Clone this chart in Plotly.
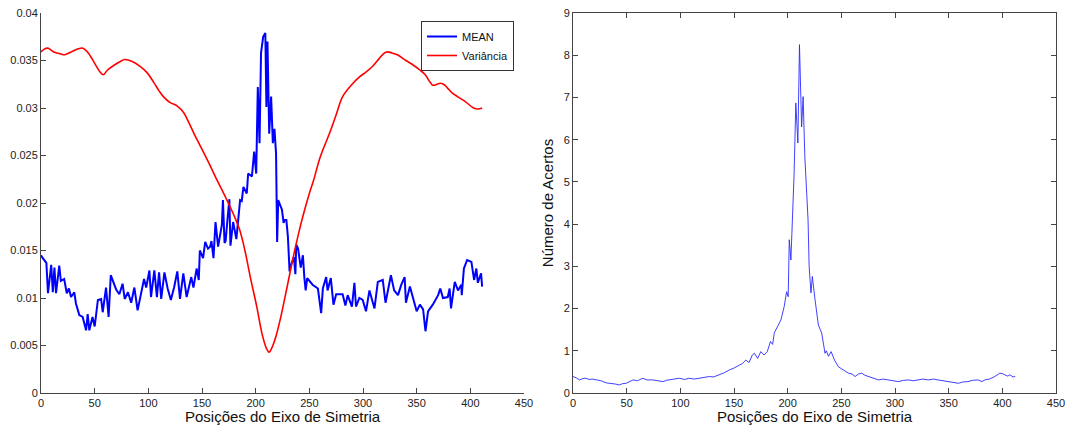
import plotly.graph_objects as go

# --- dados ---
mean_x = [0, 1, 5, 6.5, 9.5, 11, 12.5, 14, 17, 18.5, 21.6, 24, 26, 28, 31, 32.6, 35.7, 38.8,
          42, 43.5, 45, 48, 50, 53, 56, 57.5, 60.6, 63, 65, 70, 73, 76, 78, 81, 84, 87, 90,
          93, 96, 98, 101, 102.5, 105.6, 108, 110, 112, 115, 118, 121, 124, 127, 129.5,
          132.6, 135.7, 138.8, 140, 142, 145, 147, 148, 151, 153, 155.6, 157.6, 158.8,
          160.7, 162.6, 165, 168.5, 169.5, 171, 172, 174, 175.5, 176.5, 179, 182, 184,
          185.5, 187, 188.6, 191.7, 193, 196.5, 198.6, 200.5, 202, 203.6, 205, 207, 209,
          210, 211, 212.6, 214.4, 216, 217.5, 219, 219.6, 220, 221, 224.5, 226, 227, 228.6,
          230, 231.6, 233, 235.6, 237, 237.8, 239.5, 242, 244, 245.4, 246.6, 248, 253, 258,
          261, 262.6, 265.7, 267, 270, 272.5, 275, 281, 283.6, 285.7, 289.7, 292, 293.5,
          296.6, 299.7, 302.8, 306, 310.7, 313.8, 318.4, 321, 326, 329, 332.6, 335.7, 338.8,
          340, 343.7, 346.7, 350, 353, 356, 358.2, 360.6, 365, 370, 372, 374.5, 379, 380.7,
          382, 385.5, 388.5, 391.6, 392, 394, 397, 401, 403.5, 405.6, 407, 410, 411]
mean_y = [0.0145, 0.0143, 0.0137, 0.0105, 0.0135, 0.0106, 0.0132, 0.0105, 0.0134, 0.0118,
          0.0120, 0.0105, 0.0110, 0.0101, 0.0106, 0.0094, 0.0082, 0.0080, 0.0066, 0.0083,
          0.0066, 0.0080, 0.0070, 0.0098, 0.0099, 0.0085, 0.0111, 0.0080, 0.0124, 0.0109,
          0.0104, 0.0115, 0.0099, 0.0106, 0.0095, 0.0111, 0.0087, 0.0104, 0.0120, 0.0111,
          0.0129, 0.0101, 0.0129, 0.0101, 0.0127, 0.0099, 0.0127, 0.0110, 0.0098, 0.0111,
          0.0128, 0.0099, 0.0126, 0.0101, 0.0119, 0.0122, 0.0111, 0.0131, 0.0119, 0.0150,
          0.0142, 0.0159, 0.0152, 0.0154, 0.0160, 0.0142, 0.0180, 0.0154, 0.0177, 0.0203,
          0.0158, 0.0160, 0.0186, 0.0204, 0.0155, 0.0180, 0.0162, 0.0191, 0.0203, 0.0202,
          0.0217, 0.0210, 0.0231, 0.0228, 0.0254, 0.0231, 0.0322, 0.0263, 0.0358, 0.0375,
          0.0379, 0.0301, 0.0370, 0.0273, 0.0312, 0.0263, 0.0278, 0.0252, 0.0203, 0.0159,
          0.0203, 0.0193, 0.0179, 0.0182, 0.0182, 0.0165, 0.0128, 0.0135, 0.0143, 0.0125,
          0.0156, 0.0152, 0.0132, 0.0145, 0.0121, 0.0108, 0.0121, 0.0114, 0.0110, 0.0084,
          0.0110, 0.0122, 0.0108, 0.0121, 0.0093, 0.0104, 0.0104, 0.0092, 0.0103, 0.0091,
          0.0116, 0.0091, 0.0100, 0.0098, 0.0086, 0.0108, 0.0089, 0.0117, 0.0119, 0.0095,
          0.0124, 0.0108, 0.0103, 0.0114, 0.0122, 0.0095, 0.0112, 0.0100, 0.0086, 0.0093,
          0.0088, 0.0065, 0.0086, 0.0093, 0.0103, 0.0110, 0.0100, 0.0101, 0.0110, 0.0089,
          0.0117, 0.0108, 0.0114, 0.0103, 0.0131, 0.0140, 0.0138, 0.0119, 0.0131, 0.0116,
          0.0126, 0.0112]

var_x = [0, 3, 6.5, 12, 18, 22, 28, 34, 39, 44, 50, 55, 58, 62, 68, 74, 78, 85, 92, 99,
         105, 110, 114, 120, 127, 133, 138, 143, 148, 156, 164, 172, 179, 185, 190, 195, 201,
         206, 210, 212.5, 216, 219, 223, 229, 235, 240, 244, 250, 254, 260, 269, 275, 281,
         289, 297, 303, 309, 315, 319, 322, 327, 332, 340, 347, 353, 358, 362, 365, 369, 372,
         375, 378, 383, 388, 395, 403, 407, 411]
var_y = [0.0359, 0.0362, 0.0363, 0.0359, 0.0357, 0.0356, 0.0359, 0.0362, 0.0363, 0.0358,
         0.0347, 0.0338, 0.0335, 0.0340, 0.0345, 0.0349, 0.0351, 0.0349, 0.0344, 0.0337,
         0.0327, 0.0318, 0.0312, 0.0306, 0.0302, 0.0295, 0.0284, 0.0272, 0.0261, 0.0243,
         0.0224, 0.0206, 0.0189, 0.0172, 0.0150, 0.0122, 0.0091, 0.0062, 0.0047, 0.0043,
         0.0050, 0.0060, 0.0078, 0.0110, 0.0143, 0.0168, 0.0186, 0.0210, 0.0224, 0.0248,
         0.0274, 0.0293, 0.0312, 0.0324, 0.0333, 0.0338, 0.0344, 0.0352, 0.0357, 0.0359,
         0.0358, 0.0356, 0.0350, 0.0345, 0.0340, 0.0335, 0.0328, 0.0324, 0.0325, 0.0326,
         0.0325, 0.0322, 0.0316, 0.0312, 0.0307, 0.0300, 0.0299, 0.0300]

hits_x = [0, 3, 6, 9, 12, 15, 18, 21.6, 26, 31, 36, 40, 43, 46, 49.5, 53, 56, 60, 65, 69,
          74, 79, 84, 87, 90, 94, 99, 104, 108, 113, 118, 122, 127, 131, 136, 141, 146, 150,
          155, 158, 161, 164, 167, 169, 172, 175, 178, 181, 184, 186, 187.5, 190.6, 193.7,
          196.8, 199, 200.5, 201.5, 203, 205, 206, 207.6, 209.5, 211, 213, 214.4, 216, 219,
          220, 221.7, 223, 225.5, 228.6, 231.7, 234.8, 236, 238, 240.5, 243.6, 247.3, 252,
          256.6, 260, 262.8, 266, 269, 272, 275, 280, 284.6, 289, 294, 298, 303, 308, 312.5,
          317, 322, 326, 331, 336, 340, 345, 349.6, 354, 359, 363, 368, 372, 377.5, 381,
          383.7, 388, 393, 397.7, 400, 402.4, 405, 407, 410, 412]
hits_y = [0.39, 0.36, 0.31, 0.34, 0.35, 0.32, 0.33, 0.31, 0.29, 0.24, 0.23, 0.21, 0.19,
          0.22, 0.23, 0.27, 0.31, 0.29, 0.35, 0.31, 0.31, 0.29, 0.27, 0.30, 0.31, 0.33,
          0.35, 0.32, 0.35, 0.33, 0.35, 0.37, 0.39, 0.38, 0.43, 0.48, 0.55, 0.59, 0.66,
          0.70, 0.78, 0.72, 0.90, 0.94, 0.82, 0.98, 0.90, 0.98, 1.22, 1.15, 1.42, 1.57,
          1.73, 2.05, 2.40, 2.28, 3.63, 3.15, 4.57, 5.20, 6.87, 5.92, 8.25, 6.30, 7.02,
          5.60, 4.10, 3.00, 2.37, 2.76, 2.21, 1.61, 1.42, 0.94, 1.00, 0.87, 0.98, 0.78,
          0.62, 0.55, 0.47, 0.45, 0.39, 0.45, 0.47, 0.42, 0.39, 0.35, 0.31, 0.33, 0.31,
          0.29, 0.27, 0.30, 0.31, 0.29, 0.31, 0.33, 0.31, 0.33, 0.31, 0.29, 0.27, 0.25,
          0.23, 0.26, 0.27, 0.30, 0.31, 0.27, 0.31, 0.33, 0.39, 0.47, 0.46, 0.43, 0.40,
          0.43, 0.38, 0.39]

x_ticks = [0, 50, 100, 150, 200, 250, 300, 350, 400, 450]
left_yticks = [0, 0.005, 0.01, 0.015, 0.02, 0.025, 0.03, 0.035, 0.04]
left_yticklabels = ["0", "0.005", "0.01", "0.015", "0.02", "0.025", "0.03", "0.035", "0.04"]
right_yticks = [0, 1, 2, 3, 4, 5, 6, 7, 8, 9]
x_title = "Posições do Eixo de Simetria"

FONT = "Liberation Sans, Arial, sans-serif"
AXIS_COLOR = "#444444"

W, H = 1069, 430

def px_x(p):
    return p / W

def px_y(p):
    return 1 - p / H

fig = go.Figure()

fig.add_trace(go.Scatter(x=mean_x, y=mean_y, mode="lines", name="MEAN",
                         line=dict(color="#0000ff", width=2), xaxis="x", yaxis="y"))
fig.add_trace(go.Scatter(x=var_x, y=var_y, mode="lines", name="Variância",
                         line=dict(color="#ff0000", width=1.6, shape="spline"),
                         xaxis="x", yaxis="y"))
fig.add_trace(go.Scatter(x=hits_x, y=hits_y, mode="lines", showlegend=False,
                         line=dict(color="#2a2aff", width=0.9), xaxis="x2", yaxis="y2"))

axis_common = dict(showgrid=False, zeroline=False, showline=True, linecolor=AXIS_COLOR,
                   linewidth=1, ticks="inside", ticklen=5, tickcolor=AXIS_COLOR,
                   automargin=False, ticklabeloverflow="allow",
                   tickfont=dict(size=11, color="#222222", family=FONT))

ydom = [px_y(393), px_y(13)]

fig.update_layout(
    width=W, height=H,
    margin=dict(l=0, r=0, t=0, b=0),
    paper_bgcolor="white", plot_bgcolor="white",
    font=dict(family=FONT, color="#111111"),
    xaxis=dict(domain=[px_x(41), px_x(524)], range=[0, 450], tickvals=x_ticks,
               anchor="y", mirror=False, **axis_common),
    yaxis=dict(domain=ydom, range=[0, 0.04], tickvals=left_yticks,
               ticktext=left_yticklabels, anchor="x", mirror=False, **axis_common),
    xaxis2=dict(domain=[px_x(573), px_x(1056)], range=[0, 450], tickvals=x_ticks,
                anchor="y2", mirror="ticks", **axis_common),
    yaxis2=dict(domain=ydom, range=[0, 9], tickvals=right_yticks,
                anchor="x2", mirror="ticks",
                title=dict(text="Número de Acertos", font=dict(size=15), standoff=6),
                **axis_common),
    legend=dict(x=px_x(514), y=px_y(21), xanchor="right", yanchor="top",
                bordercolor="#333333", borderwidth=1, bgcolor="white",
                font=dict(size=11, family=FONT, color="#111111"),
                itemwidth=30, tracegroupgap=0),
)

for xref, yref in [("x domain", "y domain"), ("x2 domain", "y2 domain")]:
    fig.add_annotation(text=x_title, xref=xref, yref=yref, x=0.5, y=0,
                       xanchor="center", yanchor="top", yshift=-13, showarrow=False,
                       font=dict(size=15, family=FONT, color="#111111"))

# sem margem no body, para a figura ocupar exatamente a janela
fig.write_html("out.html", config={"displayModeBar": False},
               post_script="document.body.style.margin='0';document.body.style.overflow='hidden';")
